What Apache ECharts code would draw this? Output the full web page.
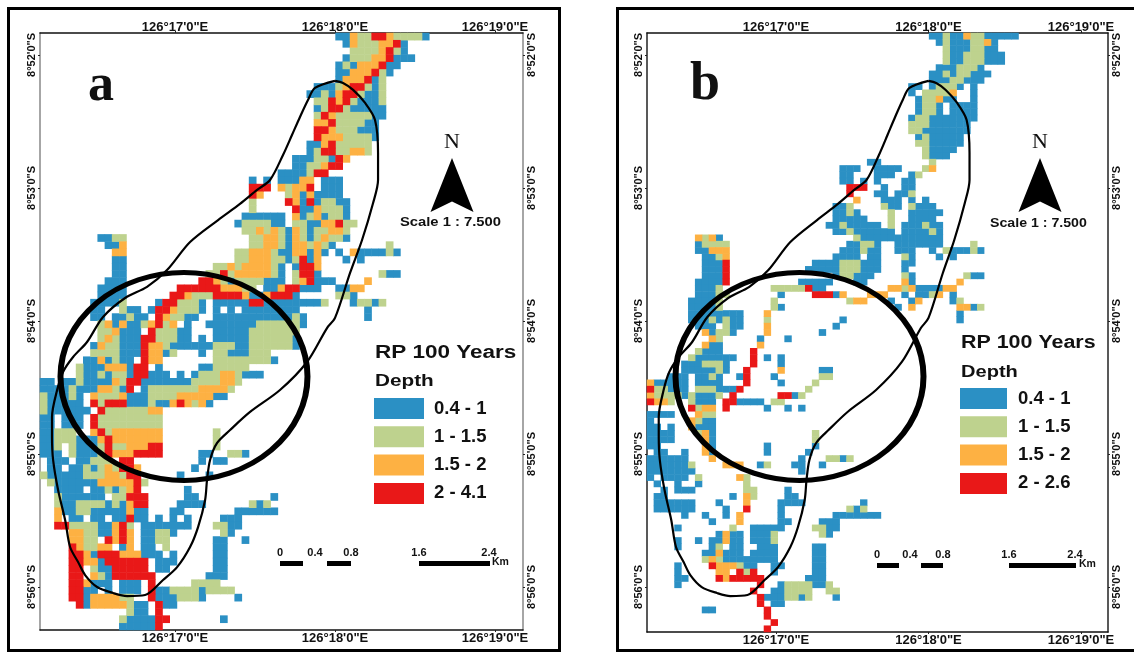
<!DOCTYPE html>
<html><head><meta charset="utf-8">
<style>html,body{margin:0;padding:0;background:#fff}#c{width:1134px;height:654px}</style>
<script src="https://cdn.jsdelivr.net/npm/echarts@6/dist/echarts.min.js"></script>
</head><body><div id="c"></div>
<script>
// class tokens per raster row: "<row>: <col><class><run>"; b,g,o,r = depth classes
const rowsA = [
"0: 41b2 43o1 44g2 46r2 48o1 49g4 53b1",
"1: 42b1 43o1 44g3 47o2 49r1 50b1",
"2: 43g4 47o1 48r1 49g1 50b1",
"3: 42b1 43g3 46o2 48r1 49b3",
"4: 41b1 42g1 43b1 44o3 47r1 48b2",
"5: 41b2 43o3 46r1 47g1 48b1",
"6: 41b1 42o3 45r1 46b1 47g1",
"7: 38b3 41g1 42o1 43r2 45g1 46b1 47g1",
"8: 37b2 39g1 40b1 41o1 42r2 44g1 45b2 47g1",
"9: 38g2 40r1 41o1 42r1 43g1 44b3 47g1",
"10: 38b1 39g1 40r2 42g1 43b5",
"11: 38g1 39r1 40o1 41g5 46b2",
"12: 38o2 40r1 41g4 45b2",
"13: 38r2 40o1 41g3 44b3",
"14: 38r1 39o3 42g4 46b1",
"15: 37b2 39o1 40r1 41g5",
"16: 37b1 38g1 39r2 41g2 43o2 45g1",
"17: 35b3 38g2 40b1 41r1 42o1",
"18: 35b2 37g2 39o1 40r2",
"19: 33b4 37g1 38r2",
"20: 29b1 31b1 33b3 36o2 39b3",
"21: 29r3 33o1 34g1 35o2 37r1 39b3",
"22: 29r1 30o1 34g1 35o1 36b1 37o1 38b4",
"23: 29g1 34r1 35o1 36b1 37r1 38b1 39g2 41b2",
"24: 29g1 35r1 36b1 37b1 38o1 39g2 41g1 42b1",
"25: 28b6 35o1 36b1 37g1 38o1 39b1 40g2 42b1",
"26: 27b1 28g4 32b2 35g2 37b2 39o2 41r1 42g2",
"27: 28g2 30o1 31g1 32o1 33g1 34b1 35o1 36g1 37b1 38g2 40o2 42g1",
"28: 8b2 10g2 29g2 31o2 33g1 34b1 35o1 36g1 37b1 38g1 39o1 40g2 42b1",
"29: 9b2 11o1 29g2 31o2 33g1 34b1 35o2 37g1 38o1 39g1 40b1 48g1",
"30: 10o2 27g2 29o3 32g1 33b2 35o2 37b1 38o1 39b1 41b1 43o1 44b4 48g1 49b1",
"31: 10b2 27g2 29o3 32g2 34b1 35g1 36r1 37b1 38o1 42b1 44b1",
"32: 10b2 24g2 26o1 27g1 28o4 32g1 33b1 35b1 36r2 38o1",
"33: 10b2 23g4 25r1 27o5 32g1 33b1 35g1 36r2 38b1 47g1 48b2",
"34: 9b3 22r2 24o1 25g1 26b1 27g4 31b3 35g1 36o1 37r1 38b3 45o1",
"35: 8b4 19r6 25o3 28g2 31b2 33o1 34r1 35r1 36b3 41b2 43o2",
"36: 8b4 18r2 20o1 21g3 24r4 28o1 29b2 31o1 32r3 35b1 41g2 43b1",
"37: 7b5 11g1 16b1 17r2 19g3 22b1 24b5 29r2 31b8 39g1 43b1 44g2 46b1 47g1",
"38: 7b2 11g1 12b2 15b1 16r2 18o1 19g3 22b1 24b1 26b1 28b8 45b1",
"39: 7b2 10b2 12g1 13b2 16r1 17o1 18g2 20b2 24b11 35g1 36b1 45b1",
"40: 8g1 9o1 10b1 11o1 12b2 14g1 15o1 16r1 17g1 18o1 20b1 23b7 30g6 36b1",
"41: 8g2 10o1 11b3 15r1 16g3 19b2 24b5 29g7",
"42: 8g1 9o1 10g1 11b3 14r2 16g3 19b2 22b1 24b5 29g5 34g1 35b1",
"43: 7b1 8o1 9g2 11b3 14r1 15o2 17g1 18b6 24g3 27b2 29g6 35b1",
"44: 7g4 11b3 14r1 15o2 17b1 18g1 22b1 24g2 26b3 29g3",
"45: 6b2 8o1 9b1 10g1 11b2 14r1 15o2 24g8 32b1",
"46: 5g1 6b3 9o3 12b1 13r2 16b1 22b2 24g5",
"47: 5g1 6b2 8g1 9b1 10g2 12b1 13r2 15b3 19b1 21b1 22g3 25o2 27g1 28b3",
"48: 0b2 3b2 5g1 6b4 10o1 11g1 12r2 14b7 21g4 25o2 27g1",
"49: 0b2 2b2 4g1 5b3 8o2 10g1 11b1 12r1 14b1 15g7 22o4 26g1",
"50: 0g1 1b3 4g1 5b1 7o1 8g3 11o1 12b3 15g4 19o5 24b2",
"51: 0g1 1b5 7r1 8g1 9r3 12b3 15g1 16b2 18o1 19r1 20o1 21g1 22o1 23b1",
"52: 0g1 1b6 8r1 9g6 15o2",
"53: 0b2 3b3 7r1 8g9",
"54: 0b2 3b3 7r1 8g9",
"55: 0b2 2g3 7o1 8r1 9g1 10o7 24g1",
"56: 0b2 2g3 5b3 8o1 9r1 10o7 24g1",
"57: 0b2 2g1 4g1 5b3 8g1 9r1 10g2 12o3 15r2 24g1",
"58: 0b3 4g1 5b3 8g1 9r1 10o3 13r4 22b2 26g2 28b1",
"59: 1b3 5b2 7g3 11r2 22b1 24b2",
"60: 1b2 4b2 6g1 7b1 8g1 9o1 10g1 11r2 13o1 21b1",
"61: 0g1 1b6 6g3 9o2 11g1 12r2 19b1 23b1",
"62: 1g1 2b6 8o5 13r1 14g1",
"63: 2b4 7b2 9g1 10b1 11g1 12o1 13r1 20b1",
"64: 2g1 3b6 10g2 12r3 20b2 32b1",
"65: 2g1 3b2 5g4 9b1 10g1 11b1 12o1 13r2 19b4 29g1 30b1 31g1",
"66: 2o1 3b2 5g2 7b5 12o1 13b2 18b1 19b1 27b6",
"67: 2o1 4b2 7b2 10b2 12r1 13b2 16b1 18b1 20b1 25b3",
"68: 2r2 4g1 5g3 8b2 10o1 11r1 12g1 14b7 24g2 26b2",
"69: 4o2 6g2 8b2 10o1 11r1 12o1 14b2 16g2 18b1 25g1 26b1",
"70: 4o2 6g2 9r1 10o1 11r1 12o1 14b2 16g2 24b2 28b1",
"71: 4r1 5o1 6g2 8o2 11b1 12o1 14b2 17g1 24b2",
"72: 4r2 6o1 7b1 8r3 11o3 14b3 18b1 24b2",
"73: 4r2 6o2 8b1 9r6 16b3 24b2",
"74: 4r2 7g1 8b2 10r5 16b2 24b2",
"75: 4r2 7o1 8g1 9b1 10r6 23b3",
"76: 4r2 6o1 7b3 11b3 15r1 21g4",
"77: 4r2 6b2 9b1 11b3 15r1 16b2 18g9 22b1",
"78: 4r2 6b1 7o4 11g2 15r1 16b3 19g3 22b1 27b1",
"79: 5r1 6b1 7o5 12g1 13b2 16r1 17b2",
"80: 12g1 13b2 16r1",
"81: 11g1 12b4 16r1 17r1 25b1",
"82: 11b5 16r1"
];
const rowsB = [
"0: 41b2 43g1 44b2 46o1 47g2 49b5",
"1: 42b1 43g1 44b3 47g2 49o1 50b1",
"2: 43g1 44b3 47g2 49b2",
"3: 43g1 44b2 46g3 49b3",
"4: 43g1 44b2 46g3 49b3",
"5: 42b3 45g3 48b1",
"6: 41b2 43g1 44b1 45g2 47b3",
"7: 41b3 44g2 46b3",
"8: 38b2 41b1 42g3 45b1 47b1",
"9: 38b1 40g4 44o1 47b1",
"10: 39b1 40g2 42o1 43b2 47b1",
"11: 39b1 40g2 42b1 44b4",
"12: 39b1 40g2 42b1 44b4",
"13: 38b1 39g2 41b7",
"14: 38g3 41b6",
"15: 38g2 40b7",
"16: 39b1 40g1 41b5",
"17: 39g2 41b5",
"18: 40g1 41b4",
"19: 40g1 41b3",
"20: 32b2 41g1",
"21: 28b3 33b4 40g1 41o1",
"22: 28b2 33b3 38b1 39g1",
"23: 28b2 31b1 33b1 37b2",
"24: 29r3 34b1 37b2",
"25: 29r1 33b2 36b2 38g1",
"26: 30o1 34b1 35b2 38b1 40b1",
"27: 27b2 29g1 34g1 35b2 38g1 39b3",
"28: 27b2 29g1 30b1 35g1 38b5",
"29: 27b5 35g1 38b4",
"30: 26b2 28g1 29b5 35g1 37b3 40g1 41b2",
"31: 27b2 29g1 30b4 34b2 37b4 41g1 42b1",
"32: 7o1 8g1 9o1 10b1 30g1 31b3 34b9",
"33: 7b1 8g4 29b2 31g2 33b1 36b7 47g1",
"34: 7b2 9o3 28b3 31g1 32b2 36b3 41b1 43g1 44b3 47g1 48b1",
"35: 8b2 10g1 11o1 27b3 30b1 32b2 37g1 38b1 42b1 44b1",
"36: 8b3 11r1 24b4 28g3 31b3 37b2",
"37: 8b3 11r1 23b5 28g3 31b3 37b1",
"38: 8b3 11r1 27b1 28g2 30b3 37g1 38b1 46g1 47b2",
"39: 7b4 11r1 22b5 30b2 37o1 38b1 45o1",
"40: 7b3 10g1 18g5 23r1 24b2 35o2 37g1 38o1 39b4 43o2",
"41: 7b3 10g2 19b1 24r3 27b1 28o1 32o3 34o1 37b1 39b2 41g1 42o1 44b1",
"42: 6b4 10g1 18g1 29g1 30o2 35b1 38b1 39o1 44b1 45g1",
"43: 6b4 10g1 18g1 19b1 36b1 38o1 45o2 47b1 48g1",
"44: 6b8 17o1 45b1",
"45: 6b3 9g1 10b1 11g1 12b2 17g1 28b1 45b1",
"46: 7b3 11g1 12b2 17o1 27b1",
"47: 8o1 9b1 10g2 12b1 17o1 25b1",
"48: 9o1 10g1 16b1 20b1",
"49: 8o1 9b2 16o1",
"50: 7g1 8b3 15r1",
"51: 6g1 7b6 15r1 17b1 19b1",
"52: 5b3 8g3 11b1 15r1 19b1",
"53: 5b5 10g1 11b1 14r1 19o1 25b2",
"54: 3b3 7b2 9g1 10b1 13b1 14r1 18b1 25g2",
"55: 0o1 1b5 7b4 14r1 19b1 24g1",
"56: 0r1 1g2 3b3 7g3 10b3 13r1 23g1",
"57: 0o1 1g4 5b2 6g1 7b3 10g1 12r1 19r2 21b1 22g1",
"58: 0r1 1o2 3g1 6g1 7b3 11r2 13b4 18g2",
"59: 6r1 7g1 8o2 11r1 17b1 20b1 22b1",
"60: 0b4 7o1 8g2",
"61: 0b1 6o1 7g1 8b2",
"62: 0b2 3b1 6o1 7b3",
"63: 0b4 7g1 8o1 9b1 24g1",
"64: 0b2 2b2 8o1 9b1 24g1",
"65: 0b2 8o1 9b1 17b1 24b1",
"66: 1b2 5b1 8o1 9b1 17b1 23b1",
"67: 0b2 2b4 9o1 22b1 26g2 28b1 29g1",
"68: 0b2 2b5 6g1 11o3 16b1 17g1 21b2 25b1",
"69: 0b2 2b2 4b3 22b1",
"70: 0b1 2b4 7g1 13o1 14g1",
"71: 1b1 4b1 7b1 14g1",
"72: 2b1 4b3 14g2 20b1",
"73: 1b2 12b1 14o1 15g1 20b2",
"74: 1b6 10b1 14o1 19b4 31b1",
"75: 1b6 11b1 14r1 19b1 29g1 30b1 31g1",
"76: 5b1 8b1 11b1 13o1 19b1 27b7",
"77: 9b1 13o1 19b2 25b3",
"78: 4b1 12g1 15b5 24g2 26b2",
"79: 10b1 11o1 12b2 15b3 18g1 25g1 26b1",
"80: 4b1 7b1 9b2 11o1 12b2 15b3 18g1",
"81: 4b1 9b1 10g1 12b2 16b3 24b2",
"82: 8b2 10o1 11b3 15b4 24b2",
"83: 8g1 9o1 10g1 11b8 24b2",
"84: 4b1 9r1 10o3 13g1 14b2 18b2 24b2",
"85: 4b1 10o2 13r1 14g1 15r1 18b1 24b2",
"86: 4b2 10r1 11o1 12r5 23b3",
"87: 4b1 16r1 19b1 20g4 24b2 26g1",
"88: 15r1 18b2 20g4 26g2",
"89: 16r1 17b3 20g2 22b1 23g1 27b1",
"90: 16r1 18b2",
"91: 8b2 17r1",
"92: 17r1",
"93: 18r1",
"94: 17r1"
];
const classes = ["b","g","o","r"];
const classColors = ["#2B90C4","#BED28E","#FDB143","#E91818"];
const classNamesA = ["0.4 - 1","1 - 1.5","1.5 - 2","2 - 4.1"];
const classNamesB = ["0.4 - 1","1 - 1.5","1.5 - 2","2 - 2.6"];
const lonTicks = [17,18,19];
const latTicks = [52,53,54,55,56];
// study-area outline, lon/lat minutes past 126°E / 8°S
const outline = [[18,52.195],[17.875,52.248],[17.831,52.338],[17.781,52.466],[17.731,52.602],[17.675,52.752],[17.594,52.94],[17.513,53.015],[17.406,53.12],[17.269,53.241],[17.094,53.406],[16.95,53.617],[16.825,53.744],[16.688,53.827],[16.55,53.97],[16.45,54.158],[16.363,54.271],[16.3,54.383],[16.263,54.519],[16.231,54.722],[16.231,54.872],[16.238,55.045],[16.269,55.271],[16.313,55.496],[16.344,55.699],[16.394,55.812],[16.438,55.91],[16.513,56],[16.613,56.045],[16.7,56.068],[16.813,56.06],[16.925,55.947],[17.013,55.85],[17.094,55.699],[17.144,55.549],[17.188,55.346],[17.2,55.195],[17.219,55.045],[17.263,54.917],[17.344,54.82],[17.469,54.684],[17.656,54.519],[17.825,54.308],[17.95,54.053],[18,53.977],[18.094,53.639],[18.169,53.391],[18.238,53.113],[18.269,52.94],[18.269,52.737],[18.25,52.489],[18.188,52.361],[18.113,52.263],[18.05,52.211],[18,52.195]];
const circleA = [[17.056,54.417]];
const circleB = [[17.154,54.417]];

function parse(rows){
  const grid = new Map();
  rows.forEach(s=>{
    const [r,t]=s.split(":");
    t.trim().split(/\s+/).forEach(k=>{
      const m=k.match(/^(\d+)([bgor])(\d+)$/);
      for(let i=0;i<+m[3];i++) grid.set(r+","+(+m[1]+i),m[2]);
    });
  });
  const out={b:[],g:[],o:[],r:[]};
  grid.forEach((c,k)=>{const [r,col]=k.split(",").map(Number);out[c].push([col,r,1]);});
  return out;
}
const seq=n=>Array.from({length:n},(_,i)=>String(i));
const font='"Liberation Sans",Arial,sans-serif';
const P=[
 {rows:rowsA,names:classNamesA,nr:83,rect:[40,33,483,597],lon:[16.156,19.175],lat:[51.835,56.323],circle:circleA,size:[247,208],
  side:"#888",legend:[374,398,50],legPad:5},
 {rows:rowsB,names:classNamesB,nr:95,rect:[647,33,461,599],lon:[16.154,19.177],lat:[51.835,56.338],circle:circleB,size:[248,208],
  side:"#222",legend:[960,388,47],legPad:6}
];
const grid=[],xAxis=[],yAxis=[],series=[],legend=[];
const fmtLon=v=>`126°${v}'0"E`, fmtLat=v=>`8°${v}'0"S`;
P.forEach((p,i)=>{
  const [L,T,W,H]=p.rect;
  const gc=grid.length; grid.push({left:L,top:T,width:W,height:H},{left:L,top:T,width:W,height:H});
  const xc=xAxis.length,yc=yAxis.length;
  xAxis.push({type:"category",gridIndex:gc,data:seq(67),show:false});
  yAxis.push({type:"category",gridIndex:gc,data:seq(p.nr),inverse:true,show:false});
  const lblX=(m)=>({customValues:lonTicks,formatter:fmtLon,color:"#111",fontFamily:font,fontWeight:"bold",fontSize:13,margin:m,hideOverlap:false});
  const lblY={customValues:latTicks,formatter:fmtLat,color:"#111",fontFamily:font,fontWeight:"bold",fontSize:11,rotate:90,margin:3,hideOverlap:false};
  const tick={show:true,customValues:null,length:2,lineStyle:{color:"#222"}};
  const mkX=(pos,m)=>({type:"value",gridIndex:gc+1,position:pos,min:p.lon[0],max:p.lon[1],splitLine:{show:false},
     axisLine:{show:true,onZero:false,lineStyle:{color:"#111",width:1.5}},axisTick:{...tick,customValues:lonTicks},axisLabel:lblX(m)});
  const mkY=(pos)=>({type:"value",gridIndex:gc+1,position:pos,inverse:true,min:p.lat[0],max:p.lat[1],splitLine:{show:false},
     axisLine:{show:true,onZero:false,lineStyle:{color:p.side,width:1.5}},axisTick:{...tick,customValues:latTicks},axisLabel:lblY});
  const xa=xAxis.length; xAxis.push(mkX("top",-1),mkX("bottom",2));
  const ya=yAxis.length; yAxis.push(mkY("left"),mkY("right"));
  const cells=parse(p.rows);
  classes.forEach((c,k)=>series.push({type:"heatmap",name:p.names[k],xAxisIndex:xc,yAxisIndex:yc,data:cells[c],
     itemStyle:{color:classColors[k]},emphasis:{disabled:true},silent:true,progressive:0,z:2}));
  series.push({type:"line",name:"outline"+i,xAxisIndex:xa,yAxisIndex:ya,data:outline,showSymbol:false,smooth:0.3,silent:true,
     lineStyle:{color:"#000",width:2.2},z:5,animation:false});
  series.push({type:"scatter",name:"circle"+i,xAxisIndex:xa,yAxisIndex:ya,data:p.circle,symbol:"circle",symbolSize:p.size,silent:true,
     itemStyle:{color:"rgba(0,0,0,0)",borderColor:"#000",borderWidth:5.5,opacity:1},z:6,animation:false});
  legend.push({data:p.names,left:p.legend[0],top:p.legend[1],orient:"vertical",icon:"rect",itemWidth:p.legend[2],itemHeight:21,itemGap:7.3,
     selectedMode:false,padding:0,textStyle:{fontFamily:font,fontWeight:"bold",fontSize:18.5,color:"#111",padding:[0,0,0,p.legPad]}});
});
const txt=(t,x,y,f,extra={})=>({type:"text",x,y,z:20,scaleX:extra.sx||1,style:{text:t,x:0,y:0,font:f,fill:"#111",textAlign:extra.align||"left",textVerticalAlign:"middle",...(extra.style||{})}});
const bold=s=>`bold ${s}px ${font}`;
const rect=(x,y,w,h)=>({type:"rect",z:20,shape:{x,y,width:w,height:h},style:{fill:"#000"}});
const frame=(x,y,w,h)=>({type:"rect",z:19,shape:{x,y,width:w,height:h},style:{fill:"none",stroke:"#000",lineWidth:3}});
const arrow=(cx)=>({type:"polygon",z:20,shape:{points:[[cx,158],[cx-21.5,212],[cx,201.5],[cx+21.5,212]]},style:{fill:"#000"}});
const scale=(xs,yBar,yLbl,km,d)=>[
  rect(xs[0],yBar,xs[1]-xs[0],5),rect(xs[2],yBar,xs[3]-xs[2],5),rect(xs[4],yBar,xs[5]-xs[4],5),
  txt("0",xs[0],yLbl,bold(11),{align:"center"}),txt("0.4",xs[1]+d,yLbl,bold(11),{align:"center"}),
  txt("0.8",xs[3],yLbl,bold(11),{align:"center"}),txt("1.6",xs[4],yLbl,bold(11),{align:"center"}),
  txt("2.4",xs[5]-1,yLbl,bold(11),{align:"center"}),txt("Km",km,yBar+1,bold(10.5),{})
];
const serifShadow={shadowColor:"rgba(0,0,0,0.45)",shadowBlur:3,shadowOffsetX:1,shadowOffsetY:2};
const graphic=[
  frame(8.5,8.5,551,642),frame(617.5,8.5,530,642),
  txt("a",88,87,'bold 52px "Liberation Serif",serif',{style:serifShadow}),
  txt("b",690,85,'bold 54px "Liberation Serif",serif',{style:serifShadow}),
  txt("N",452,142,'22px "Liberation Serif",serif',{align:"center"}),
  txt("N",1040,142,'22px "Liberation Serif",serif',{align:"center"}),
  arrow(452),arrow(1040),
  txt("Scale 1 : 7.500",400,223,bold(12),{sx:1.23}),
  txt("Scale 1 : 7.500",990,224,bold(12),{sx:1.18}),
  txt("RP 100 Years",375,353,bold(18),{sx:1.25}),
  txt("RP 100 Years",961,343,bold(18),{sx:1.19}),
  txt("Depth",375,381,bold(17),{sx:1.22}),
  txt("Depth",961,372,bold(17),{sx:1.18}),
  ...scale([280,303,327,351,419,490],561,553,492,12),
  ...scale([877,899,921,943,1009,1076],563,555,1079,11)
];
const chart=echarts.init(document.getElementById("c"),null,{renderer:"canvas"});
chart.setOption({animation:false,backgroundColor:"#fff",grid,xAxis,yAxis,legend,series,graphic,tooltip:{show:false}});
</script></body></html>
